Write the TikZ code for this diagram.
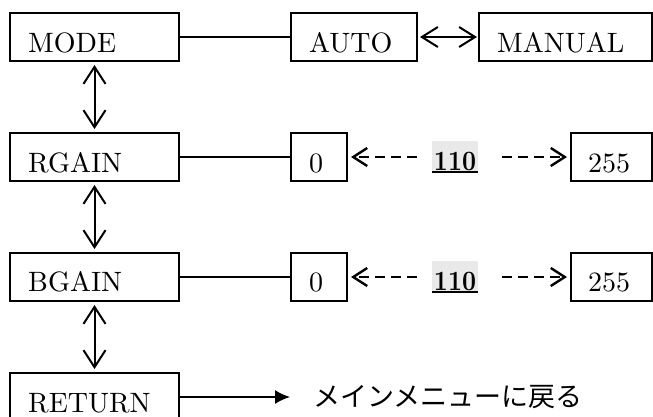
\documentclass[tikz,border=0pt]{standalone}
\usepackage{fontspec}
\setmainfont{lmroman10-regular.otf}[BoldFont=lmroman10-bold.otf]
\newfontfamily\jpfont{Noto Sans CJK JP}
\usetikzlibrary{arrows.meta}

\begin{document}
\begin{tikzpicture}[x=1pt,y=-1pt,
  box/.style={draw, line width=1.5pt, inner sep=0pt, outer sep=0pt,
    minimum height=48pt, anchor=north west},
  lbl/.style={anchor=base west, inner sep=0pt, font=\fontsize{28}{32}\selectfont},
  link/.style={line width=1.3pt},
  barb/.tip={Straight Barb[length=17pt,width=22pt]},
  updown/.style={line width=2pt, barb-barb, shorten <=4pt, shorten >=4pt},
  leftright/.style={line width=2pt,
    {Straight Barb[length=16pt,width=20pt]}-{Straight Barb[length=16pt,width=20pt]},
    shorten <=3pt, shorten >=2pt},
  dasharrow/.style={line width=1.8pt, dash pattern=on 10pt off 6pt,
    -{Straight Barb[length=14pt,width=18pt,line width=2.4pt]}, shorten >=4pt},
  valbox/.style={fill=gray!17, inner sep=0pt, outer sep=0pt,
    minimum width=46pt, minimum height=32pt},
  valtxt/.style={anchor=base, inner sep=0pt, font=\fontsize{28}{32}\selectfont\bfseries},
  solidarrow/.style={line width=1.6pt, -{Latex[length=15pt,width=14pt]}}
]
\clip (0,0) rectangle (653,416);

% menu items (left column)
\node[box, minimum width=169pt] (mode)  at (10,13)  {};
\node[box, minimum width=169pt] (rgain) at (10,133) {};
\node[box, minimum width=169pt] (bgain) at (10,253) {};
\node[box, minimum width=169pt] (ret)   at (10,373) {};

% settings
\node[box, minimum width=126pt] (auto)   at (291,13)  {};
\node[box, minimum width=173pt] (manual) at (479,13)  {};
\node[box, minimum width=56pt]  (rmin)   at (291,133) {};
\node[box, minimum width=81pt]  (rmax)   at (571,133) {};
\node[box, minimum width=56pt]  (bmin)   at (291,253) {};
\node[box, minimum width=81pt]  (bmax)   at (571,253) {};

% box captions
\node[lbl] at (28,52)   {MODE};
\node[lbl] at (28,172)  {RGAIN};
\node[lbl] at (28,291)  {BGAIN};
\node[lbl] at (28,412)  {RETURN};
\node[lbl] at (309,52)  {AUTO};
\node[lbl] at (497,52)  {MANUAL};
\node[lbl] at (309,172) {0};
\node[lbl] at (588,172) {255};
\node[lbl] at (309,291) {0};
\node[lbl] at (588,291) {255};

% current values
\node[valbox] (rval) at (455,157) {};
\node[valbox] (bval) at (455,277) {};
\draw[line width=1.6pt] ([yshift=1pt]rval.south west) -- ([yshift=1pt]rval.south east);
\draw[line width=1.6pt] ([yshift=1pt]bval.south west) -- ([yshift=1pt]bval.south east);
\node[valtxt] at (455,170) {\scalebox{0.87}[1]{110}};
\node[valtxt] at (455,290) {\scalebox{0.87}[1]{110}};

% return target
\node[anchor=west, inner sep=0pt, font=\jpfont\fontsize{27}{30}\selectfont]
  (menu) at (313,397) {メインメニューに戻る};

% connectors
\draw[link] (mode) -- (auto);
\draw[link] (rgain) -- (rmin);
\draw[link] (bgain) -- (bmin);
\draw[leftright] (auto) -- (manual);

\draw[updown] (mode) -- (rgain);
\draw[updown] (rgain) -- (bgain);
\draw[updown] (bgain) -- (ret);

\draw[dasharrow, shorten <=15pt] (rval.west) -- (rmin);
\draw[dasharrow, shorten <=24pt] (rval.east) -- (rmax);
\draw[dasharrow, shorten <=15pt] (bval.west) -- (bmin);
\draw[dasharrow, shorten <=24pt] (bval.east) -- (bmax);

\draw[solidarrow, shorten >=23pt] (ret) -- (menu);
\end{tikzpicture}
\end{document}
